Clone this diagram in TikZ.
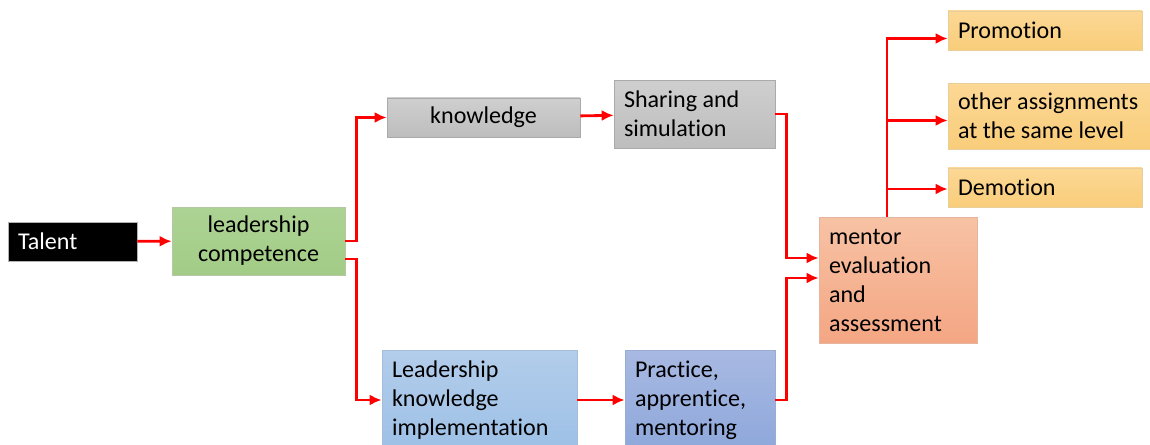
\documentclass[tikz,border=0pt]{standalone}
\usepackage{fontspec}
\setmainfont{Carlito}[Ligatures={NoCommon}]
\usetikzlibrary{shapes,arrows.meta,calc}

\definecolor{talentc}{HTML}{000000}
\definecolor{greentop}{HTML}{ADD394}
\definecolor{greenbot}{HTML}{A2CC86}
\definecolor{greytop}{HTML}{CFCFCF}
\definecolor{greybot}{HTML}{BDBDBD}
\definecolor{bluetop}{HTML}{B3CDEB}
\definecolor{bluebot}{HTML}{9DC0E6}
\definecolor{purptop}{HTML}{A8B9E2}
\definecolor{purpbot}{HTML}{8EA8DB}
\definecolor{salmtop}{HTML}{F7C2A4}
\definecolor{salmbot}{HTML}{F4A683}
\definecolor{goldtop}{HTML}{FCD895}
\definecolor{goldbot}{HTML}{F9CD7A}
\definecolor{arrowc}{HTML}{FF0000}

\tikzstyle{ptr}  = [draw, arrowc, line width=1.6pt, -{Latex[length=2.4mm,width=2.2mm]}]
\tikzstyle{box}  = [rectangle, draw, inner xsep=2mm, inner ysep=0pt, text=black, font=\fontsize{13.7}{16.5}\selectfont]
\tikzstyle{dark} = [box, fill=talentc, draw=gray!60, text=white, align=flush left]
\tikzstyle{green}= [box, top color=greentop, bottom color=greenbot, draw=greenbot!80!black!60, align=flush center]
\tikzstyle{grey} = [box, top color=greytop, bottom color=greybot, draw=greybot!90!black]
\tikzstyle{blue} = [box, top color=bluetop, bottom color=bluebot, draw=bluebot!90!black!80, align=flush left]
\tikzstyle{purp} = [box, top color=purptop, bottom color=purpbot, draw=purpbot!90!black!80, align=flush left]
\tikzstyle{salm} = [box, top color=salmtop, bottom color=salmbot, draw=salmbot!90!black!70, align=flush left]
\tikzstyle{gold} = [box, top color=goldtop, bottom color=goldbot, draw=goldbot!90!black!70, align=flush left]

\begin{document}
\begin{tikzpicture}[x=0.02cm, y=-0.02cm]

    \clip (0,0) rectangle (1150,445);

    % left side
    \node[dark, text width=2.18cm, minimum height=0.78cm] (talent) at (72.5,241.5) {Talent};
    \node[green, text width=3.06cm, minimum height=1.36cm] (lead) at (258.5,241) {leadership\\competence};

    % upper branch
    \node[grey, align=flush center, text width=3.46cm, minimum height=0.78cm] (know) at (483.5,117.5) {knowledge};
    \node[grey, align=flush left, text width=2.82cm, minimum height=1.36cm] (share) at (694.5,114) {Sharing and\\simulation};

    % lower branch
    \node[blue, text width=3.5cm, minimum height=2cm] (impl) at (479.5,400) {Leadership\\knowledge\\implementation};
    \node[purp, text width=2.6cm, minimum height=2cm] (prac) at (700,400) {Practice,\\apprentice,\\mentoring};

    % evaluation and outcomes
    \node[salm, text width=2.76cm, minimum height=2.52cm] (mentor) at (898,280) {mentor\\evaluation\\and\\assessment};
    \node[gold, text width=3.48cm, minimum height=0.78cm] (promo) at (1045,30.5) {Promotion};
    \node[gold, text width=3.9cm, minimum height=1.32cm] (same) at (1055.5,116) {other assignments\\at the same level};
    \node[gold, text width=3.48cm, minimum height=0.78cm] (demo) at (1045,187.5) {Demotion};

    \coordinate (fork) at ($(mentor.north)+(-11,0)$);

    \path[ptr] (talent) -- (lead);
    \path[ptr] (lead.east) -- ++(11,0) |- (know.west);
    \path[ptr] ($(lead.east)+(0,18)$) -- ++(11,0) |- (impl.west);
    \path[ptr] (know) -- (share);
    \path[ptr] (impl) -- (prac);
    \path[ptr] (share.east) -- ++(11,0) |- ([yshift=0.44cm]mentor.west);
    \path[ptr] (prac.east) -- ++(11,0) |- ([yshift=0.04cm]mentor.west);
    \path[ptr] (fork) |- ([yshift=-0.16cm]promo.west);
    \path[ptr] (fork) |- ([yshift=-0.09cm]same.west);
    \path[ptr] (fork) |- ([yshift=-0.03cm]demo.west);

\end{tikzpicture}
\end{document}
